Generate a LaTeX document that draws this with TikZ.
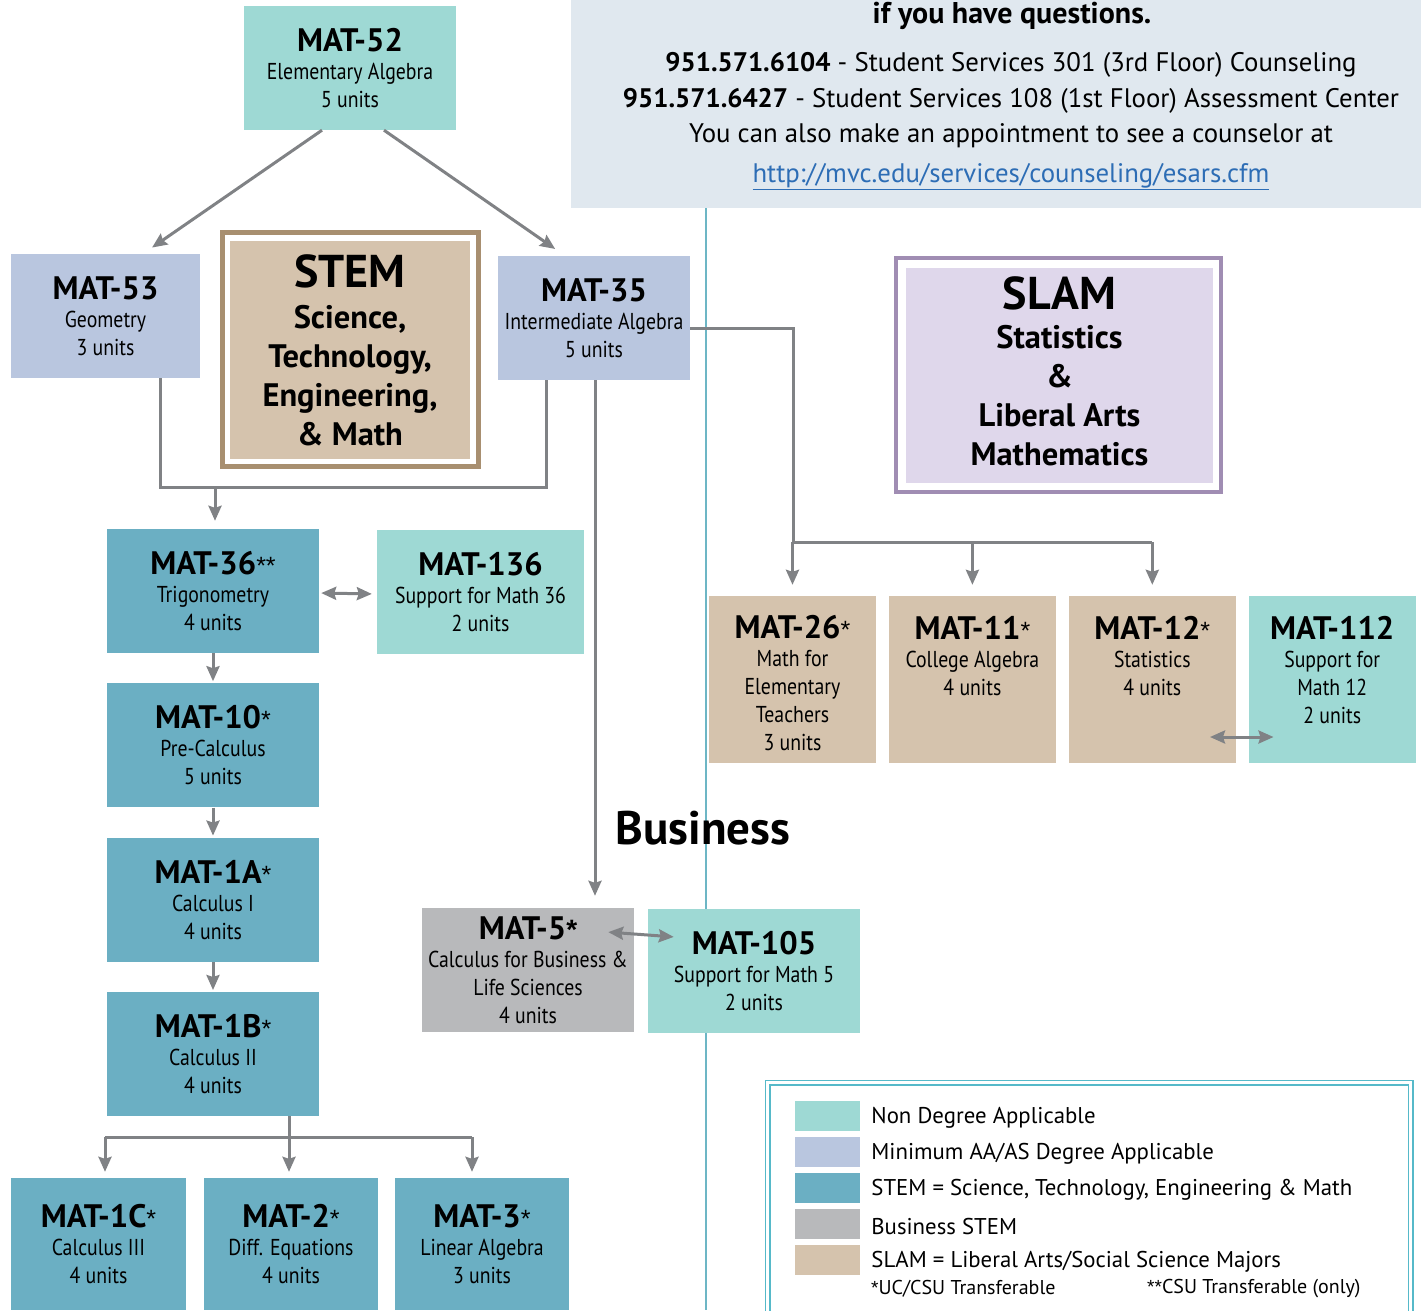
\documentclass[tikz,border=0pt]{standalone}
\usepackage{fontspec}
\setmainfont{PT Sans}
\newfontfamily\narrowfont[FakeStretch=0.86]{PT Sans}
\newfontfamily\starfont{Liberation Sans}
\usetikzlibrary{arrows.meta}
\usetikzlibrary{positioning}

\definecolor{nondeg}{HTML}{9ED9D4}
\definecolor{mindeg}{HTML}{B9C6DF}
\definecolor{stemblue}{HTML}{6BAFC3}
\definecolor{busgray}{HTML}{B8B9BB}
\definecolor{slamtan}{HTML}{D5C3AD}
\definecolor{stembrown}{HTML}{A88F70}
\definecolor{slampurple}{HTML}{A08DB3}
\definecolor{slamlilac}{HTML}{DFD7EB}
\definecolor{infobg}{HTML}{E0E8EF}
\definecolor{linkgray}{HTML}{808285}
\definecolor{dividerteal}{HTML}{6DB6C5}
\definecolor{legteal}{HTML}{56B9C9}
\definecolor{urlblue}{HTML}{2D6DB5}

\newcommand{\crstitle}[1]{{\rmfamily\bfseries\fontsize{32.5}{28}\selectfont #1}}
\newcommand{\tstar}{{\starfont\mdseries\fontsize{25}{28}\selectfont *}}
\newcommand{\bstar}{{\starfont\bfseries\fontsize{28}{28}\selectfont *}}
\newcommand{\nstar}{{\starfont\fontsize{19}{22}\selectfont *}}
\newcommand{\toppad}{\rule{0pt}{31pt}}

\begin{document}
\begin{tikzpicture}[
    x=1pt, y=-1pt,
    >={Stealth[length=15pt, width=13pt, inset=2pt]},
    node distance = 30pt,
    course/.style = {
      rectangle, inner sep=0pt, align=center,
      minimum width=212pt, minimum height=124pt,
      font=\narrowfont\fontsize{23}{28}\selectfont
    },
    nondeg/.style = {fill=nondeg},
    mindeg/.style = {fill=mindeg},
    stem/.style = {fill=stemblue},
    business/.style = {fill=busgray},
    slam/.style = {fill=slamtan, minimum width=167pt, minimum height=167pt},
    area/.style = {
      rectangle, inner sep=0pt, align=center,
      font=\bfseries\fontsize{32.5}{39}\selectfont
    },
    link/.style = {draw=linkgray, line width=3pt},
    info/.style = {anchor=base, inner sep=0pt, font=\fontsize{26.8}{30}\selectfont},
    swatch/.style = {rectangle, inner sep=0pt, minimum width=65pt, minimum height=30pt},
    legend/.style = {inner sep=0pt, font=\fontsize{22.8}{26}\selectfont},
    note/.style = {anchor=west, inner sep=0pt, font=\fontsize{20}{22}\selectfont},
  ]
  \useasboundingbox (0,0) rectangle (1421,1310);

  % counseling box and divider
  \fill[infobg] (571,0) rectangle (1421,208);
  \draw[dividerteal, line width=2pt] (706,208) -- (706,1310);
  \node[info, font=\bfseries\fontsize{30}{32}\selectfont] (q0) at (1012,23) {if you have questions.};
  \node[info] (q1) at (1011,71) {\textbf{951.571.6104} - Student Services 301 (3rd Floor) Counseling};
  \node[info] (q2) at (1011,107) {\textbf{951.571.6427} - Student Services 108 (1st Floor) Assessment Center};
  \node[info] (q3) at (1011,142) {You can also make an appointment to see a counselor at};
  \node[info, text=urlblue] (qurl) at (1011,182) {\underline{http://mvc.edu/services/counseling/esars.cfm}};

  % area boxes
  \draw[stembrown, line width=5pt] (222.5,232.5) rectangle (478.5,466.5);
  \node[area, fill=slamtan, minimum width=240pt, minimum height=218pt] (stemarea) at (350,350)
    {{\fontsize{46}{43}\selectfont STEM}\\[2pt]Science,\\Technology,\\Engineering,\\\& Math};
  \draw[slampurple, line width=4pt] (896,258) rectangle (1221,492);
  \node[area, fill=slamlilac, minimum width=307pt, minimum height=215pt] (slamarea) at (1059.5,375.5)
    {{\fontsize{46}{43}\selectfont SLAM}\\[0pt]Statistics\\\&\\Liberal Arts\\Mathematics\rule[-8pt]{0pt}{0pt}};
  \node[font=\bfseries\fontsize{47}{50}\selectfont, inner sep=0pt] (busarea) at (703,828) {Business};

  % courses
  \node[course, nondeg] (m52) at (350,68) {\crstitle{MAT-52}\\Elementary Algebra\\5 units};
  \node[course, mindeg, minimum width=189pt] (m53) at (105.5,316) {\crstitle{MAT-53}\\Geometry\\3 units};
  \node[course, mindeg, minimum width=192pt] (m35) at (594,318) {\crstitle{MAT-35}\\Intermediate Algebra\\5 units};

  \node[course, stem] (m36) at (213,591) {\crstitle{MAT-36\tstar\tstar}\\Trigonometry\\4 units};
  \node[course, nondeg, minimum width=207pt] (m136) at (480.5,592) {\crstitle{MAT-136}\\Support for Math 36\\2 units};
  \node[course, stem, below=of m36] (m10) {\crstitle{MAT-10\tstar}\\Pre-Calculus\\5 units};
  \node[course, stem, below=of m10] (m1A) {\crstitle{MAT-1A\tstar}\\Calculus I\\4 units};
  \node[course, stem, below=of m1A] (m1B) {\crstitle{MAT-1B\tstar}\\Calculus II\\4 units};

  \node[course, stem, minimum width=175pt, minimum height=132pt] (m1C) at (98.5,1244) {\crstitle{MAT-1C\tstar}\\Calculus III\\4 units};
  \node[course, stem, minimum width=174pt, minimum height=132pt] (m2) at (291,1244) {\crstitle{MAT-2\tstar}\\Diff. Equations\\4 units};
  \node[course, stem, minimum width=174pt, minimum height=132pt] (m3) at (482,1244) {\crstitle{MAT-3\tstar}\\Linear Algebra\\3 units};

  \node[course, business] (m5) at (528,970) {\crstitle{MAT-5\bstar}\\Calculus for Business \&\\Life Sciences\\4 units};
  \node[course, nondeg] (m105) at (754,971) {\crstitle{MAT-105}\\Support for Math 5\\2 units};

  \node[course, slam] (m26) at (792.5,679.5) {\toppad\crstitle{MAT-26\tstar}\\Math for\\Elementary\\Teachers\\3 units};
  \node[course, slam, right=12.5pt of m26] (m11) {\toppad\crstitle{MAT-11\tstar}\\College Algebra\\4 units\\\mbox{}\\\mbox{}};
  \node[course, slam, right=12.5pt of m11] (m12) {\toppad\crstitle{MAT-12\tstar}\\Statistics\\4 units\\\mbox{}\\\mbox{}};
  \node[course, slam, nondeg, right=12.5pt of m12] (m112) {\toppad\crstitle{MAT-112}\\Support for\\Math 12\\2 units\\\mbox{}};

  % prerequisites
  \draw[link, ->, shorten >=11pt] ([xshift=-28pt]m52.south) -- ([xshift=37.5pt]m53.north);
  \draw[link, ->, shorten >=12pt] ([xshift=34pt]m52.south) -- ([xshift=-29pt]m35.north);

  \draw[link] ([xshift=54.5pt]m53.south) -- ++(0,109) -| ([xshift=-48pt]m35.south);
  \coordinate (trigjoin) at (215,487);
  \draw[link, ->, shorten >=8pt] (trigjoin) -- (trigjoin |- m36.north);

  \draw[link, ->, shorten >=12pt] ([xshift=1pt]m35.south) -- ([xshift=67pt]m5.north);

  \coordinate (slamjoin) at (793,542);
  \draw[link] ([yshift=-10pt]m35.east) -| (slamjoin) -- (slamjoin -| m12.north);
  \foreach \c in {m26, m11, m12}
    \draw[link, ->, shorten >=11pt] (slamjoin -| \c.north) -- (\c.north);

  \foreach \a/\b in {m36/m10, m10/m1A, m1A/m1B}
    \draw[link, ->, shorten >=2pt] (\a.south) -- (\b.north);

  \draw[link] ([xshift=76pt]m1B.south) -- ++(0,23);
  \foreach \x/\c in {105/m1C, 289/m2, 472/m3} {
    \coordinate (s\c) at (\x,1137);
    \draw[link, ->, shorten >=6pt] (s\c) -- (s\c |- \c.north);
  }
  \draw[link] (sm1C) -- (sm3);

  % support courses
  \draw[link, <->, shorten <=2pt, shorten >=5pt] ([yshift=-2pt]m36.east) -- ([yshift=-2pt]m136.west);
  \draw[link, <->, shorten <=-26pt, shorten >=-26pt] ([yshift=36pt]m5.east) -- ([yshift=36pt]m105.west);
  \draw[link, <->, shorten <=-26pt, shorten >=-25pt] ([yshift=-57.5pt]m12.east) -- ([yshift=-57.5pt]m112.west);

  % legend
  \draw[legteal, line width=1.5pt, double=white, double distance=3pt] (767.5,1082.5) rectangle (1410.5,1340);
  \foreach \col/\txt [count=\i] in {nondeg/{Non Degree Applicable}, mindeg/{Minimum AA/AS Degree Applicable},
      stemblue/{STEM = Science, Technology, Engineering \& Math}, busgray/{Business STEM},
      slamtan/{SLAM = Liberal Arts/Social Science Majors}} {
    \node[swatch, fill=\col] (sw\i) at (827.5,1080+36*\i) {};
    \node[legend, right=11pt of sw\i, yshift=-2pt] (lg\i) {\txt};
  }
  \node[note] (fn1) at (871,1289) {\nstar UC/CSU Transferable};
  \node[note] (fn2) at (1147,1289) {\nstar\nstar CSU Transferable (only)};
\end{tikzpicture}
\end{document}
